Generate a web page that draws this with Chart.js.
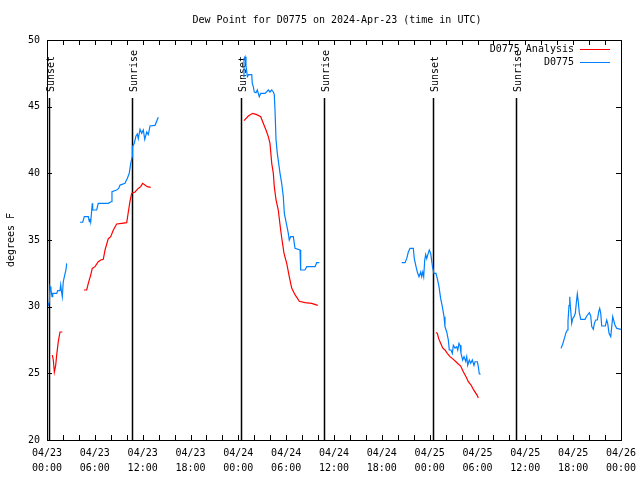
<!DOCTYPE html>
<html>
<head>
<meta charset="utf-8">
<script src="https://cdn.jsdelivr.net/npm/chart.js@4.4.1/dist/chart.umd.min.js"></script>
<style>
html, body { margin: 0; padding: 0; background: #fff; }
</style>
</head>
<body>
<canvas id="chart" width="640" height="480"></canvas>
<script>
const FONT = "'DejaVu Sans Mono', 'Liberation Mono', monospace";

// hours since 04/23 00:00 UTC, one array per unbroken piece of the line
const obsHours = [
    [0.13, 0.29, 0.38, 0.50, 0.63, 0.72, 1.22, 1.34, 1.63, 1.72, 1.79, 1.92, 2.04, 2.22, 2.38, 2.47],
    [4.14, 4.48, 4.68, 5.18, 5.31, 5.39, 5.48, 5.61, 5.68, 5.73, 6.23, 6.43, 7.69, 8.03, 8.15, 8.74, 8.99, 9.16, 9.78, 10.07, 10.32, 10.50, 10.70, 10.72, 10.95, 11.16, 11.33, 11.45, 11.67, 11.88, 12.08, 12.26, 12.51, 12.71, 12.92, 13.55, 13.96],
    [24.62, 24.71, 24.84, 24.96, 25.13, 25.30, 25.68, 25.75, 25.88, 26.00, 26.22, 26.38, 26.63, 26.81, 27.35, 27.76, 27.97, 28.19, 28.39, 28.51, 28.60, 28.73, 28.89, 29.06, 29.23, 29.44, 29.64, 29.77, 30.07, 30.27, 30.39, 30.57, 30.90, 31.11, 31.74, 31.82, 32.36, 32.58, 33.62, 33.83, 34.16],
    [44.49, 44.91, 45.12, 45.32, 45.53, 45.95, 46.07, 46.29, 46.45, 46.66, 46.88, 47.00, 47.13, 47.25, 47.38, 47.50, 47.63, 47.75, 47.95, 48.13, 48.26, 48.38, 48.54, 48.79, 48.96, 49.17, 49.38, 49.59, 49.80, 49.92, 50.14, 50.34, 50.46, 50.68, 50.84, 50.97, 51.18, 51.39, 51.52, 51.68, 51.81, 51.93, 52.14, 52.31, 52.52, 52.65, 52.77, 52.97, 53.15, 53.35, 53.56, 53.69, 53.98, 54.10, 54.23, 54.40],
    [64.48, 64.69, 64.89, 65.10, 65.27, 65.35, 65.48, 65.57, 65.64, 65.82, 65.94, 66.11, 66.27, 66.39, 66.52, 66.64, 66.77, 66.95, 67.49, 67.70, 68.03, 68.20, 68.33, 68.53, 68.66, 68.83, 69.03, 69.21, 69.33, 69.46, 69.58, 70.03, 70.21, 70.33, 70.50, 70.71, 70.84, 70.96, 71.13, 71.25, 71.47, 72.00]
];
const obsDew = [
    [30.05, 30.37, 31.5, 31.25, 30.75, 31.0, 31.0, 31.2, 31.2, 31.63, 31.25, 30.75, 31.87, 32.37, 32.75, 33.25],
    [36.33, 36.33, 36.75, 36.75, 36.37, 36.6, 36.33, 37.25, 37.75, 37.25, 37.25, 37.75, 37.75, 37.87, 38.62, 38.75, 38.87, 39.12, 39.25, 39.62, 40.0, 40.75, 41.25, 42.0, 42.25, 42.8, 42.95, 42.6, 43.3, 43.0, 43.25, 42.55, 43.1, 42.9, 43.55, 43.6, 44.2],
    [47.25, 48.6, 48.75, 48.1, 47.25, 47.4, 47.4, 46.75, 46.5, 46.1, 46.05, 46.25, 45.75, 46.0, 46.0, 46.25, 46.1, 46.25, 46.1, 45.9, 44.75, 42.5, 41.5, 40.75, 40.0, 39.25, 38.25, 37.0, 36.1, 35.5, 35.0, 35.25, 35.25, 34.37, 34.25, 32.75, 32.75, 33.0, 33.0, 33.3, 33.3],
    [33.3, 33.3, 33.6, 34.1, 34.37, 34.37, 33.6, 33.0, 32.6, 32.25, 32.6, 32.25, 32.6, 32.25, 33.5, 33.9, 33.6, 33.87, 34.25, 34.0, 33.4, 32.9, 32.5, 32.5, 32.1, 31.5, 30.6, 30.0, 29.25, 28.5, 28.1, 27.5, 26.75, 26.75, 26.5, 27.1, 26.9, 27.0, 26.75, 27.25, 27.1, 26.5, 26.0, 26.25, 25.9, 26.25, 25.6, 26.0, 25.75, 26.0, 25.6, 25.87, 25.87, 25.5, 24.95, 24.95],
    [26.87, 27.2, 27.6, 28.05, 28.25, 28.9, 30.1, 30.75, 30.1, 28.75, 29.1, 29.25, 29.5, 30.25, 30.95, 30.37, 29.55, 29.05, 29.05, 29.3, 29.55, 29.3, 28.5, 28.3, 28.75, 29.0, 29.0, 29.62, 29.87, 29.5, 28.55, 28.55, 29.0, 28.75, 28.0, 27.75, 28.5, 29.25, 28.87, 28.6, 28.37, 28.3]
];

const anaHours = [
    [0.67, 0.79, 0.92, 1.09, 1.22, 1.42, 1.63, 1.92],
    [4.64, 4.98, 5.18, 5.48, 5.68, 6.02, 6.43, 6.74, 7.06, 7.28, 7.69, 7.99, 8.32, 8.74, 9.37, 10.00, 10.20, 10.41, 10.62, 11.04, 11.45, 11.75, 12.00, 12.29, 12.58, 13.01],
    [24.71, 25.25, 25.80, 26.31, 26.81, 27.13, 27.47, 27.76, 27.97, 28.19, 28.39, 28.51, 28.73, 29.01, 29.31, 29.48, 29.73, 30.07, 30.39, 30.69, 31.11, 31.65, 32.36, 33.20, 33.96],
    [48.79, 48.96, 49.13, 49.38, 49.63, 49.92, 50.21, 50.55, 50.97, 51.30, 51.59, 51.89, 52.22, 52.56, 52.85, 53.19, 53.48, 53.94, 54.10]
];
const anaDew = [
    [26.37, 26.0, 25.1, 25.6, 26.4, 27.4, 28.1, 28.1],
    [31.25, 31.25, 31.75, 32.37, 32.87, 33.0, 33.37, 33.5, 33.55, 34.25, 35.1, 35.25, 35.75, 36.2, 36.25, 36.3, 37.1, 37.9, 38.5, 38.6, 38.87, 39.0, 39.25, 39.12, 39.0, 38.95],
    [43.95, 44.3, 44.5, 44.4, 44.25, 43.75, 43.25, 42.75, 42.25, 40.75, 40.0, 39.0, 38.0, 37.25, 35.75, 35.0, 34.0, 33.25, 32.25, 31.4, 30.9, 30.4, 30.3, 30.25, 30.1],
    [28.07, 28.0, 27.6, 27.25, 26.9, 26.75, 26.5, 26.25, 26.05, 25.87, 25.7, 25.55, 25.12, 24.75, 24.37, 24.12, 23.8, 23.37, 23.15]
];

const eventHours = [0.25, 10.66, 24.33, 34.75, 48.4, 58.8];
const eventLabels = ["Sunset", "Sunrise", "Sunset", "Sunrise", "Sunset", "Sunrise"];
const eventTop = 45.65;

const yTicks = [20, 25, 30, 35, 40, 45, 50];
const startDay = 23;

function joinPieces(hours, values) {
    const out = [];
    hours.forEach((piece, i) => {
        if (i > 0) out.push({ x: piece[0] - 0.01, y: null });
        piece.forEach((h, j) => out.push({ x: h, y: values[i][j] }));
    });
    return out;
}

function pad(n) {
    return String(n).padStart(2, "0");
}

const decor = {
    id: "decor",
    beforeDatasetsDraw(chart) {
        const { ctx, scales: { x, y } } = chart;
        ctx.save();
        ctx.strokeStyle = "#000";
        ctx.fillStyle = "#000";
        ctx.lineWidth = 1.5;
        ctx.font = "10px " + FONT;
        eventHours.forEach((h, i) => {
            const px = Math.round(x.getPixelForValue(h)) + 0.5;
            const top = y.getPixelForValue(eventTop);
            ctx.beginPath();
            ctx.moveTo(px, y.getPixelForValue(20));
            ctx.lineTo(px, top);
            ctx.stroke();
            ctx.save();
            ctx.translate(px + 1.5, top - 6);
            ctx.rotate(-Math.PI / 2);
            ctx.textAlign = "left";
            ctx.textBaseline = "middle";
            ctx.fillText(eventLabels[i], 0, 0);
            ctx.restore();
        });
        ctx.restore();
    },
    afterDraw(chart) {
        const { ctx, chartArea: a, scales: { x, y } } = chart;
        ctx.save();
        ctx.strokeStyle = "#000";
        ctx.lineWidth = 1;
        ctx.strokeRect(a.left + 0.5, a.top + 0.5, a.right - a.left, a.bottom - a.top);

        ctx.beginPath();
        for (let h = 0; h <= 72; h += 2) {
            const px = Math.round(x.getPixelForValue(h)) + 0.5;
            ctx.moveTo(px, a.bottom); ctx.lineTo(px, a.bottom - 5);
            ctx.moveTo(px, a.top); ctx.lineTo(px, a.top + 5);
        }
        yTicks.forEach(v => {
            const py = Math.round(y.getPixelForValue(v)) + 0.5;
            ctx.moveTo(a.left, py); ctx.lineTo(a.left + 5, py);
            ctx.moveTo(a.right, py); ctx.lineTo(a.right - 5, py);
        });
        ctx.stroke();

        ctx.fillStyle = "#000";
        ctx.font = "10px " + FONT;
        ctx.textAlign = "center";
        ctx.textBaseline = "middle";
        ctx.fillText("Dew Point for D0775 on 2024-Apr-23 (time in UTC)", (a.left + a.right) / 2 + 3, 20);

        ctx.save();
        ctx.translate(11, (a.top + a.bottom) / 2);
        ctx.rotate(-Math.PI / 2);
        ctx.fillText("degrees F", 0, 0);
        ctx.restore();

        // legend, text on the left and line sample on the right
        chart.data.datasets.forEach((ds, i) => {
            const ly = a.top + 9.5 + i * 13;
            ctx.textAlign = "right";
            ctx.fillText(ds.label, a.right - 47, ly);
            ctx.strokeStyle = ds.borderColor;
            ctx.beginPath();
            ctx.moveTo(a.right - 41, ly);
            ctx.lineTo(a.right - 11, ly);
            ctx.stroke();
        });
        ctx.restore();
    }
};

new Chart(document.getElementById("chart"), {
    type: "line",
    data: {
        datasets: [
            {
                label: "D0775 Analysis",
                data: joinPieces(anaHours, anaDew),
                borderColor: "#ff0000",
                borderWidth: 1.2,
                pointRadius: 0,
                tension: 0,
                spanGaps: false
            },
            {
                label: "D0775",
                data: joinPieces(obsHours, obsDew),
                borderColor: "#0080ff",
                borderWidth: 1.2,
                pointRadius: 0,
                tension: 0,
                spanGaps: false
            }
        ]
    },
    options: {
        responsive: false,
        devicePixelRatio: 1,
        animation: false,
        layout: { padding: { top: 40, right: 19, left: 0, bottom: 0 } },
        plugins: {
            legend: { display: false },
            tooltip: { enabled: false }
        },
        scales: {
            x: {
                type: "linear",
                min: 0,
                max: 72,
                grid: { display: false, drawTicks: false },
                border: { display: false },
                afterFit: scale => {
                    scale.height = 40;
                    scale.paddingLeft = 0;
                    scale.paddingRight = 0;
                },
                ticks: {
                    stepSize: 6,
                    autoSkip: false,
                    maxRotation: 0,
                    padding: 6,
                    color: "#000",
                    font: { family: FONT, size: 10, lineHeight: 1.5 },
                    callback: v => {
                        const day = startDay + Math.floor(v / 24);
                        return ["04/" + pad(day), pad(v % 24) + ":00"];
                    }
                }
            },
            y: {
                min: 20,
                max: 50,
                grid: { display: false, drawTicks: false },
                border: { display: false },
                afterFit: scale => { scale.width = 47; },
                ticks: {
                    stepSize: 5,
                    padding: 7,
                    color: "#000",
                    font: { family: FONT, size: 10 }
                }
            }
        }
    },
    plugins: [decor]
});
</script>
</body>
</html>
